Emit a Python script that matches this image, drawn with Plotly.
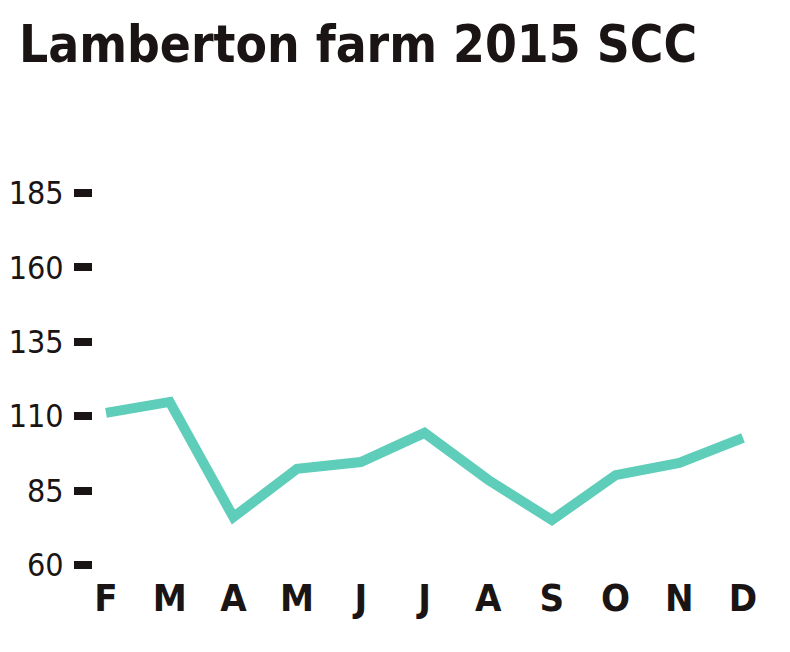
import plotly.graph_objects as go

months = ["F", "M", "A", "M", "J", "J", "A", "S", "O", "N", "D"]
scc = [111.1, 114.8, 76.1, 92.3, 94.6, 104.4, 88.6, 75.1, 90.2, 94.3, 102.7]
y_ticks = [60, 85, 110, 135, 160, 185]
title_text = "Lamberton farm 2015 SCC"

x_idx = list(range(len(months)))

fig = go.Figure()
fig.add_trace(go.Scatter(
    x=x_idx, y=scc, mode="lines",
    line=dict(color="#5ECDB9", width=10),
    hoverinfo="skip", showlegend=False,
))

FONT = "DejaVu Sans Condensed, Liberation Sans Narrow, sans-serif"

fig.add_annotation(
    text="<b>" + title_text + "</b>",
    xref="paper", yref="paper", x=-0.1139, y=1.485,
    xanchor="left", yanchor="top", showarrow=False,
    font=dict(family=FONT, size=51, color="#1a1414"),
)

fig.update_layout(
    width=782, height=644,
    paper_bgcolor="white", plot_bgcolor="white",
    margin=dict(l=85, r=30, t=185, b=87),
    xaxis=dict(
        range=[-0.204, 10.267],
        tickmode="array", tickvals=x_idx, ticktext=months,
        showgrid=False, zeroline=False, showline=False,
        ticks="", ticklabelstandoff=7,
        tickfont=dict(family=FONT, size=38, color="#1a1414", weight="bold"),
        automargin=False, fixedrange=True,
    ),
    yaxis=dict(
        range=[60, 185],
        tickmode="array", tickvals=y_ticks,
        showgrid=False, zeroline=False, showline=False,
        ticks="outside", ticklen=18, tickwidth=8, tickcolor="#1a1414",
        ticklabelstandoff=4,
        tickfont=dict(family=FONT, size=32, color="#1a1414"),
        automargin=False, fixedrange=True,
    ),
)

fig.write_html("out.html")
